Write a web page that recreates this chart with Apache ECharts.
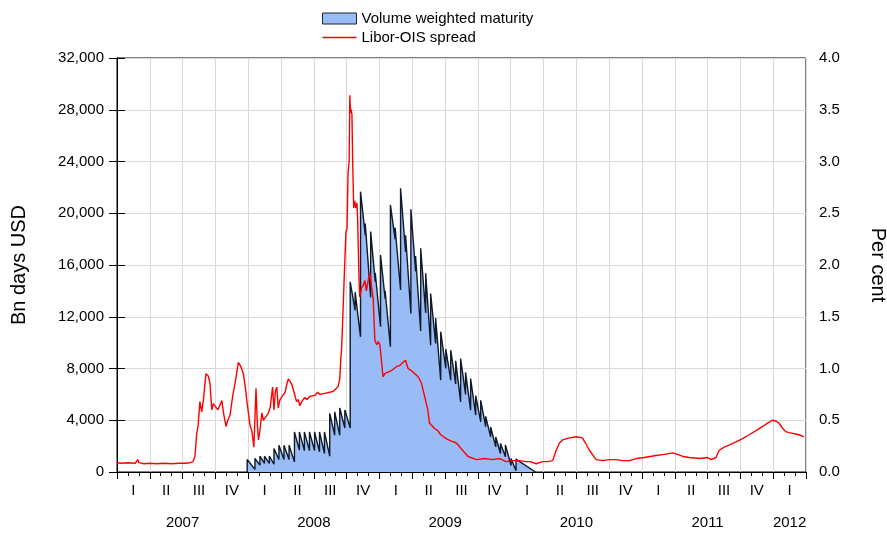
<!DOCTYPE html>
<html><head><meta charset="utf-8">
<script src="https://cdn.jsdelivr.net/npm/echarts@6/dist/echarts.min.js"></script>
<style>html,body{margin:0;padding:0;background:#fff;overflow:hidden}#c{width:887px;height:533px}</style>
</head><body><div id="c"></div>
<script>
// Volume weighted maturity (Bn days USD): auction dates, value just before jump, value after jump
const volDates = ['2007-12-29','2008-01-20','2008-02-03','2008-02-15','2008-02-28','2008-03-12','2008-03-26','2008-04-09','2008-04-23','2008-05-08','2008-05-22','2008-06-05','2008-06-19','2008-07-03','2008-07-17','2008-07-31','2008-08-15','2008-08-29','2008-09-12','2008-09-26','2008-10-11','2008-10-25','2008-11-09','2008-11-22','2008-12-07','2008-12-20','2009-01-04','2009-01-17','2009-02-01','2009-02-13','2009-02-27','2009-03-13','2009-03-28','2009-04-10','2009-04-24','2009-05-08','2009-05-22','2009-06-05','2009-06-19','2009-07-03','2009-07-17','2009-07-31','2009-08-14','2009-08-28','2009-09-11','2009-09-25','2009-10-09','2009-10-23','2009-11-06','2009-11-20','2009-12-03','2009-12-17','2010-01-02','2010-01-16'];
const volTroughs = [0,200,530,660,660,600,970,970,970,780,1690,1650,1650,1650,1560,1430,1220,2850,2850,3400,3400,12500,10450,18300,13500,14700,11230,13400,9680,18000,14070,17000,12260,15500,10900,12300,9800,9940,7100,8000,7100,6800,5420,6000,4780,4400,3880,3500,2710,1940,1430,1170,500,100];
const volPeaks = [970,1040,1220,1220,1220,1820,2070,2070,2070,3100,3100,3100,3100,3100,3100,3100,4520,4650,4950,4800,14700,13900,21670,19200,18580,15400,16770,14000,20640,18900,21930,18300,20310,16700,17290,15360,13800,11900,10840,9500,9420,8600,8770,7700,7220,5900,5540,4300,3480,2710,2200,2100,1040,1000];
const volEndDate = '2010-03-09';
const volEndValue = 0;

// Libor-OIS spread (per cent)
const spreadDates = ['2007-01-01','2007-01-15','2007-02-01','2007-02-20','2007-02-26','2007-03-01','2007-03-15','2007-04-01','2007-04-20','2007-05-10','2007-06-01','2007-06-20','2007-07-10','2007-07-22','2007-07-30','2007-08-05','2007-08-10','2007-08-14','2007-08-19','2007-08-24','2007-08-29','2007-09-05','2007-09-11','2007-09-16','2007-09-21','2007-09-25','2007-09-30','2007-10-08','2007-10-19','2007-10-25','2007-10-31','2007-11-05','2007-11-11','2007-11-19','2007-11-25','2007-11-29','2007-12-04','2007-12-09','2007-12-13','2007-12-18','2007-12-23','2007-12-28','2008-01-01','2008-01-06','2008-01-11','2008-01-17','2008-01-23','2008-01-27','2008-01-30','2008-02-03','2008-02-08','2008-02-12','2008-02-16','2008-02-24','2008-03-01','2008-03-08','2008-03-12','2008-03-16','2008-03-20','2008-03-24','2008-03-29','2008-04-06','2008-04-12','2008-04-17','2008-04-21','2008-04-25','2008-05-01','2008-05-06','2008-05-14','2008-05-19','2008-05-23','2008-05-29','2008-06-06','2008-06-12','2008-06-20','2008-07-04','2008-07-12','2008-07-18','2008-08-01','2008-08-15','2008-08-25','2008-09-03','2008-09-08','2008-09-12','2008-09-15','2008-09-17','2008-09-19','2008-09-22','2008-09-24','2008-09-26','2008-09-29','2008-10-02','2008-10-05','2008-10-08','2008-10-10','2008-10-11','2008-10-13','2008-10-14','2008-10-16','2008-10-18','2008-10-21','2008-10-24','2008-10-27','2008-10-30','2008-11-01','2008-11-05','2008-11-07','2008-11-12','2008-11-16','2008-11-21','2008-11-25','2008-11-30','2008-12-05','2008-12-09','2008-12-14','2008-12-19','2008-12-24','2008-12-28','2009-01-02','2009-01-07','2009-01-11','2009-01-16','2009-01-21','2009-01-28','2009-02-04','2009-02-08','2009-02-17','2009-02-25','2009-03-06','2009-03-13','2009-03-20','2009-03-29','2009-04-17','2009-04-26','2009-05-05','2009-05-14','2009-05-19','2009-05-28','2009-06-02','2009-06-11','2009-06-19','2009-07-05','2009-07-17','2009-08-02','2009-08-17','2009-09-04','2009-09-27','2009-10-20','2009-11-11','2009-12-01','2009-12-19','2010-01-07','2010-01-26','2010-02-13','2010-02-23','2010-03-11','2010-03-16','2010-03-30','2010-04-12','2010-04-26','2010-05-06','2010-05-15','2010-05-24','2010-06-12','2010-07-01','2010-07-18','2010-07-27','2010-08-07','2010-08-26','2010-09-14','2010-10-02','2010-10-21','2010-11-08','2010-11-27','2010-12-16','2011-01-08','2011-02-09','2011-03-03','2011-03-26','2011-04-09','2011-04-23','2011-05-11','2011-06-09','2011-07-01','2011-07-11','2011-07-25','2011-08-03','2011-08-17','2011-08-31','2011-09-19','2011-10-06','2011-10-26','2011-11-14','2011-12-02','2011-12-15','2011-12-30','2012-01-10','2012-01-18','2012-01-26','2012-02-05','2012-02-15','2012-02-28','2012-03-12','2012-03-26'];
const spreadValues = [0.09,0.085,0.09,0.085,0.12,0.09,0.08,0.085,0.08,0.085,0.08,0.085,0.085,0.09,0.10,0.15,0.37,0.45,0.68,0.58,0.70,0.95,0.93,0.86,0.60,0.66,0.66,0.60,0.69,0.55,0.44,0.50,0.55,0.75,0.86,0.95,1.06,1.03,1.00,0.95,0.84,0.69,0.70,0.45,0.40,0.24,0.81,0.45,0.31,0.40,0.57,0.50,0.52,0.56,0.62,0.82,0.60,0.78,0.82,0.62,0.70,0.74,0.77,0.85,0.90,0.88,0.84,0.78,0.68,0.70,0.64,0.68,0.72,0.70,0.73,0.74,0.77,0.75,0.76,0.77,0.78,0.81,0.83,0.90,1.10,1.18,1.36,1.36,1.85,1.85,2.32,2.35,2.89,3.00,3.64,3.55,3.47,3.50,3.45,3.00,2.55,2.62,2.55,2.60,2.45,1.85,1.69,1.78,1.80,1.85,1.75,1.85,1.92,1.80,1.68,1.27,1.23,1.26,1.23,1.06,0.92,0.95,0.96,0.97,0.98,0.97,1.02,1.03,1.06,1.08,1.00,0.98,0.92,0.86,0.73,0.60,0.47,0.44,0.42,0.40,0.36,0.32,0.30,0.28,0.22,0.15,0.12,0.13,0.12,0.13,0.10,0.11,0.11,0.10,0.10,0.08,0.066,0.10,0.10,0.11,0.21,0.28,0.31,0.33,0.34,0.33,0.28,0.21,0.12,0.11,0.12,0.12,0.11,0.11,0.13,0.14,0.16,0.17,0.185,0.17,0.15,0.14,0.13,0.14,0.12,0.14,0.21,0.24,0.26,0.29,0.32,0.36,0.40,0.44,0.47,0.50,0.49,0.47,0.43,0.39,0.38,0.37,0.36,0.34];

const quarterLabels = ['I','II','III','IV'];
const yearLabels = ['2007','2008','2009','2010','2011','2012'];
const leftTicks = [0, 32000, 4000];
const rightTicks = [0, 4, 0.5];

// month index since Jan 2007 (fractional)
function toM(s){const p=s.split('-').map(Number);const dim=new Date(p[0],p[1],0).getDate();return (p[0]-2007)*12+(p[1]-1)+(p[2]-1)/dim;}

const volData = [];
volDates.forEach((d,i)=>{const m=toM(d);volData.push([m,volTroughs[i]]);volData.push([m,volPeaks[i]]);});
volData.push([toM(volEndDate), volEndValue]);
const spreadData = spreadDates.map((d,i)=>[toM(d), spreadValues[i]]);

const FONT = "'Liberation Sans', Arial, sans-serif";
const chart = echarts.init(document.getElementById('c'));
chart.setOption({
  animation:false,
  textStyle:{fontFamily:FONT},
  legend:{
    orient:'vertical', left:317, top:6, itemWidth:34, itemHeight:11, itemGap:4,
    textStyle:{fontFamily:FONT,fontSize:15,color:'#000'},
    data:[
      {name:'Volume weighted maturity', icon:'rect', itemStyle:{color:'#99bcf7', borderColor:'#1a2535', borderWidth:1}},
      {name:'Libor-OIS spread', icon:'path://M0,0 L40,0 L40,2 L0,2 Z', itemStyle:{color:'#ff0000'}}
    ]
  },
  grid:{left:117, right:81, top:58, bottom:61, show:true, borderColor:'#000', borderWidth:1, backgroundColor:'transparent', containLabel:false, outerBoundsMode:'none'},
  xAxis:[
    {type:'value', position:'bottom', min:0, max:63, interval:3,
     axisLine:{show:true, lineStyle:{color:'#000', width:1}},
     axisTick:{show:true, length:7, lineStyle:{color:'#000'}},
     minorTick:{show:true, splitNumber:3, length:4, lineStyle:{color:'#000'}},
     splitLine:{show:true, lineStyle:{color:'#d9d9d9', width:1}},
     axisLabel:{show:false}},
    {type:'value', position:'bottom', min:0, max:63, interval:1.5,
     axisLine:{show:false}, axisTick:{show:false}, splitLine:{show:false},
     axisLabel:{show:true, margin:11, fontFamily:FONT, fontSize:15, color:'#000', lineHeight:16,
       formatter:function(v){
         const r = Math.round(v*2)/2;
         if (Math.abs(r%3-1.5)<0.01){
           const q = Math.floor(r/3)%4; const yi = Math.floor(r/12);
           if (yi===5) return quarterLabels[q]+'\n\n'+yearLabels[yi];
           return quarterLabels[q];
         }
         if (Math.abs(r%12-6)<0.01){
           const yi = Math.floor(r/12);
           if (yi<5) return '\n\n'+yearLabels[yi];
         }
         return '';
       }}}
  ],
  yAxis:[
    {type:'value', position:'left', min:leftTicks[0], max:leftTicks[1], interval:leftTicks[2],
     name:'Bn days USD', nameLocation:'middle', nameGap:88, nameRotate:90,
     nameTextStyle:{fontFamily:FONT, fontSize:20, color:'#000'},
     axisLine:{show:true, lineStyle:{color:'#000'}},
     axisTick:{show:true, length:8, lineStyle:{color:'#000'}},
     splitLine:{show:true, lineStyle:{color:'#d9d9d9'}},
     axisLabel:{fontFamily:FONT, fontSize:15, color:'#000', margin:13,
       formatter:v=>v.toLocaleString('en-US')}},
    {type:'value', position:'right', min:rightTicks[0], max:rightTicks[1], interval:rightTicks[2],
     name:'Per cent', nameLocation:'middle', nameGap:62, nameRotate:-90,
     nameTextStyle:{fontFamily:FONT, fontSize:20, color:'#000'},
     axisLine:{show:true, lineStyle:{color:'#000'}},
     axisTick:{show:true, length:8, lineStyle:{color:'#000'}},
     splitLine:{show:false},
     axisLabel:{fontFamily:FONT, fontSize:15, color:'#000', margin:13,
       formatter:v=>v.toFixed(1)}}
  ],
  series:[
    {name:'Volume weighted maturity', type:'line', xAxisIndex:0, yAxisIndex:0, data:volData,
     symbol:'none', lineStyle:{color:'#0f1a2b', width:1.4}, itemStyle:{color:'#99bcf7'},
     areaStyle:{color:'#99bcf7', opacity:1}, z:2},
    {name:'Libor-OIS spread', type:'line', xAxisIndex:0, yAxisIndex:1, data:spreadData,
     symbol:'none', lineStyle:{color:'#ff0000', width:1.4}, itemStyle:{color:'#ff0000'}, z:3}
  ]
});
</script></body></html>
